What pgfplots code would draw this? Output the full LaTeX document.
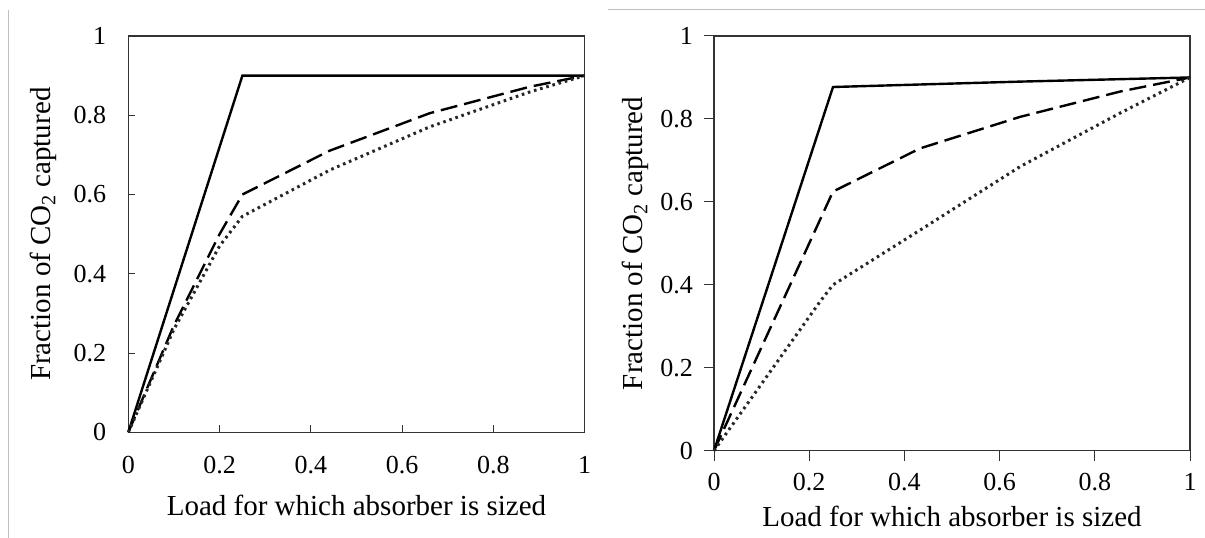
\documentclass[border=0pt]{standalone}
\usepackage{fontspec}
\setmainfont{Liberation Serif}
\usepackage{pgfplots}
\pgfplotsset{compat=1.18}
\begin{document}
\begin{tikzpicture}
\path[use as bounding box, fill=white] (0pt,0pt) rectangle (1205pt,538pt);
\draw[black!25, line width=1pt] (8pt,0pt) -- (8pt,528pt);
\draw[black!25, line width=1pt] (608pt,528pt) -- (1205pt,528pt);
\pgfplotsset{
  panel/.style={
    scale only axis,
    xmin=0, xmax=1, ymin=0, ymax=1,
    xtick={0,0.2,0.4,0.6,0.8,1},
    ytick={0,0.2,0.4,0.6,0.8,1},
    /pgf/number format/assume math mode=true,
    axis line style={black!80, line width=1.1pt},
    tick style={black!80, line width=1pt},
    ticklabel style={font=\fontsize{26}{30}\selectfont},
    label style={font=\fontsize{29}{34}\selectfont},
    xtick pos=bottom, ytick pos=left,
    xlabel={Load for which absorber is sized},
    ylabel={Fraction of CO\textsubscript{2} captured},
    clip=false,
  },
  solidl/.style={black, line width=2.4pt, line join=miter},
  dashedl/.style={black, line width=2.4pt, dash pattern=on 17pt off 7pt},
  dottedl/.style={black!85, line width=3pt, dash pattern=on 2.6pt off 3.8pt},
}
\begin{axis}[panel,
  at={(128.3pt,105.7pt)}, anchor=south west,
  width=456.4pt, height=396.3pt,
  tick align=inside, major tick length=7pt,
  xticklabel style={anchor=base, yshift=-41pt},
  yticklabel style={anchor=east, inner sep=0pt, xshift=-22pt},
  xlabel style={at={(axis description cs:0.5,-0.2087)}, anchor=base},
  ylabel style={at={(axis description cs:-0.1702,0.5)}, anchor=base, rotate=0},
]
\addplot[solidl] coordinates {(0,0) (0.25,0.9) (1,0.9)};
\addplot[dashedl] coordinates {(0,0) (0.1,0.27) (0.2,0.5) (0.25,0.6) (0.44,0.71) (0.66,0.805) (0.88,0.872) (1,0.9)};
\addplot[dottedl] coordinates {(0,0) (0.1,0.26) (0.2,0.47) (0.25,0.545) (0.442,0.662) (0.661,0.771) (0.88,0.859) (1,0.9)};
\end{axis}
\begin{axis}[panel,
  at={(714pt,87.3pt)}, anchor=south west,
  width=476pt, height=414.7pt,
  tick align=outside, major tick length=10pt,
  xticklabel style={anchor=base, yshift=-29.3pt},
  yticklabel style={anchor=east, inner sep=0pt, xshift=-11pt},
  xlabel style={at={(axis description cs:0.5,-0.1833)}, anchor=base},
  ylabel style={at={(axis description cs:-0.1502,0.5)}, anchor=base, rotate=0},
]
\addplot[solidl] coordinates {(0,0) (0.25,0.877) (0.643,0.89) (1,0.9)};
\addplot[dashedl] coordinates {(0,0) (0.25,0.625) (0.433,0.729) (0.643,0.805) (0.853,0.866) (1,0.9)};
\addplot[dottedl] coordinates {(0,0) (0.223,0.36) (0.25,0.40) (0.433,0.532) (0.643,0.685) (0.853,0.814) (1,0.9)};
\end{axis}
\end{tikzpicture}
\end{document}
